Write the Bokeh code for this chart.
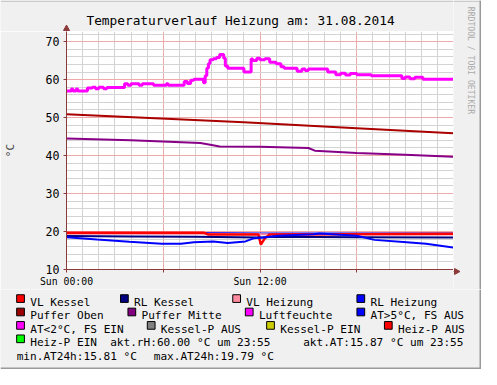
from bokeh.plotting import figure
from bokeh.layouts import column, row
from bokeh.models import Range1d, FixedTicker
from bokeh.embed import file_html
from bokeh.resources import INLINE
from bokeh.core.properties import value
import math

# ---------------- data (hours since Sun 00:00, °C) ----------------
luft_t = [0, 0.3, 0.4, 0.6, 0.7, 1.3, 1.6, 1.8, 2.0, 2.3, 2.5, 3.6, 3.8, 4.0, 4.5, 4.7, 5.2, 5.4, 6.2, 6.3, 7.3, 7.5, 7.7, 7.9, 8.4, 8.5,
          8.6, 8.7, 8.8, 8.9, 9.1, 9.3, 9.5, 9.75, 9.85, 10.0, 11.0, 11.45, 11.55, 11.8, 12.0, 12.3, 12.6, 13.0, 13.3, 13.5,
          14.3, 14.6, 14.8, 15.0, 15.3, 16.2, 16.7, 17.0, 17.3, 17.6, 18.0, 18.9, 20.8, 21.0, 21.3, 21.6, 22.1, 24]
luft_v = [57, 57.5, 57, 57.5, 57, 57.8, 58, 57.6, 58, 57.6, 57.9, 58.9, 58.5, 58.9, 58.5, 58.9, 58.9, 58.5, 58.9, 58.5, 59.5, 59.0, 59.8, 60.1, 60.1, 59.2,
          61.0, 63.0, 64.2, 65.2, 65.5, 65.8, 66.6, 65.6, 63.6, 63.0, 62.0, 65.4, 65.0, 65.6, 65.2, 65.5, 64.6, 64.2, 63.4, 63.0,
          62.2, 62.8, 62.4, 62.8, 62.8, 62.0, 61.3, 61.7, 61.2, 61.6, 61.3, 61.0, 60.3, 60.7, 60.2, 60.6, 60.1, 60.1]

puffer_oben_t = [0, 11, 18, 24]
puffer_oben_v = [50.9, 48.8, 47.2, 45.9]

puffer_mitte_t = [0, 4, 8.3, 9.0, 9.5, 12, 15.0, 15.4, 18, 21, 24]
puffer_mitte_v = [44.5, 44.0, 43.3, 42.8, 42.4, 42.3, 42.0, 41.3, 40.7, 40.2, 39.7]

rl_heiz_t = [0, 8.5, 12, 24]
rl_heiz_v = [19.6, 19.6, 19.5, 19.5]

vl_heiz_t = [0, 8.5, 12.5, 24]
vl_heiz_v = [19.4, 19.4, 19.3, 19.2]

vl_kessel_t = [0, 8.5, 8.8, 11.9, 12.05, 12.3, 12.6, 24]
vl_kessel_v = [19.7, 19.7, 19.2, 19.2, 16.6, 18.2, 19.2, 19.4]

rl_kessel_t = [0, 4, 8, 12, 13, 18, 24]
rl_kessel_v = [18.8, 18.7, 18.6, 18.4, 18.6, 18.5, 18.4]

at_t = [0, 1.9, 3.9, 5.9, 7.1, 7.9, 9.1, 10.0, 11.1, 11.6, 12.2, 13.1, 15.3, 15.7, 18.0, 19.1, 21.1, 22.3, 24]
at_v = [18.5, 17.9, 17.3, 16.8, 16.8, 17.2, 17.4, 17.0, 17.4, 18.2, 18.4, 18.9, 19.3, 19.5, 18.9, 17.8, 17.2, 16.8, 15.8]

x_tick_pos = [0, 6, 12, 18, 24]
x_tick_lbl = ["Sun 00:00", "", "Sun 12:00", "", ""]
y_tick_pos = [10, 20, 30, 40, 50, 60, 70]

title_text = "Temperaturverlauf Heizung am: 31.08.2014"
ylabel_text = "°C"
watermark = "RRDTOOL / TOBI OETIKER"

legend_rows = [
    [("VL Kessel", "#FF0000"), ("RL Kessel", "#000080"), ("VL Heizung", "#FF8C9E"), ("RL Heizung", "#0000FF")],
    [("Puffer Oben", "#990000"), ("Puffer Mitte", "#800080"), ("Luftfeuchte", "#FF00FF"), ("AT>5°C, FS AUS", "#0000FF")],
    [("AT<2°C, FS EIN", "#FF00FF"), ("Kessel-P AUS", "#808080"), ("Kessel-P EIN", "#CCCC00"), ("Heiz-P AUS", "#FF0000")],
    [("Heiz-P EIN", "#00FF00")],
]
info_row4 = ["akt.rH:60.00 °C um 23:55", "akt.AT:15.87 °C um 23:55"]
info_row5 = ["min.AT24h:15.81 °C", "max.AT24h:19.79 °C"]

# ---------------- layout (reference pixels scaled into 481x369) ----------------
W, H = 481, 369
S_X, S_Y = W / 497.0, H / 385.0


def SX(X):
    return X * S_X


def SY(Y):
    return Y * S_Y


legend_square_x = [[16.7, 124, 240, 368.3], [16.7, 131.7, 253, 368.3], [16.7, 151.7, 275, 396.7], [16.7]]
info_row4_x = [113.3, 312.7]
info_row5_x = [16.7, 158.3]
baselines_ref = [315, 329, 343, 357, 371]

MONO = "DejaVu Sans Mono"
BG = "#F0F0F0"
AXIS = "#8B3A3A"
FL, FR, FT, FB = 66, 453, 31, 271       # plot frame in figure pixels
TOP_H = 289                              # title strip + plot
YMIN = 10
PXD = (FB - SY(43)) / 60.0
YMAX = YMIN + (FB - FT) / PXD

# title strip
tfig = figure(width=FR, height=FT, output_backend="svg", toolbar_location=None,
              x_range=Range1d(0, FR), y_range=Range1d(FT, 0), min_border=0,
              x_axis_type=None, y_axis_type=None, frame_align=False)
tfig.background_fill_color = BG
tfig.border_fill_color = BG
tfig.outline_line_color = None
tfig.grid.visible = False
tfig.text(x=[SX(248)], y=[SY(20.5)], text=[title_text], text_font=value(MONO), text_font_size="12.8px",
          text_align="center", text_baseline="alphabetic", text_color="#000000")
tfig.segment(x0=[FL], y0=[FT], x1=[FL], y1=[FT - 4], line_color=AXIS, line_width=1)
tfig.patch(x=[FL - 3, FL + 3, FL], y=[FT - 1, FT - 1, FT - 6.5], fill_color=AXIS, line_color=AXIS)
tfig.segment(x0=[0], y0=[0.75], x1=[FR], y1=[0.75], line_color="#CBCBCB", line_width=1.5)

# main plot
p = figure(width=FR, height=TOP_H - FT, output_backend="svg", toolbar_location=None,
           x_range=Range1d(0, 24), y_range=Range1d(YMIN, YMAX),
           min_border_left=FL, min_border_right=0, min_border_top=0,
           min_border_bottom=TOP_H - FB, frame_align=False)
p.background_fill_color = "white"
p.border_fill_color = BG
p.outline_line_color = None

p.xaxis.ticker = FixedTicker(ticks=x_tick_pos)
p.xaxis.major_label_overrides = {t: l for t, l in zip(x_tick_pos, x_tick_lbl)}
p.yaxis.ticker = FixedTicker(ticks=y_tick_pos)
for ax in (p.xaxis, p.yaxis):
    ax.axis_line_color = AXIS
    ax.axis_line_width = 1
    ax.major_tick_line_color = AXIS
    ax.major_tick_out = 3
    ax.major_tick_in = 0
    ax.minor_tick_line_color = None
    ax.major_label_text_font = MONO
    ax.major_label_text_color = "#000000"
p.xaxis.major_label_text_font_size = "9.8px"
p.xaxis.major_label_standoff = 3
p.yaxis.major_label_text_font_size = "11.6px"
p.yaxis.major_label_standoff = 4
p.yaxis.axis_label = ylabel_text
p.yaxis.axis_label_text_font = MONO
p.yaxis.axis_label_text_font_size = "11px"
p.yaxis.axis_label_text_font_style = "normal"
p.yaxis.axis_label_standoff = 26

p.xgrid.ticker = FixedTicker(ticks=[0, 6, 12, 18, 24], minor_ticks=list(range(0, 25)))
p.ygrid.ticker = FixedTicker(ticks=y_tick_pos, minor_ticks=list(range(10, 74, 2)))
for g in (p.xgrid, p.ygrid):
    g.grid_line_color = "#F2A0A0"
    g.grid_line_alpha = 0.8
    g.minor_grid_line_color = "#D3D3D3"

p.line(rl_heiz_t, rl_heiz_v, line_color="#0000FF", line_width=2)
p.line(vl_heiz_t, vl_heiz_v, line_color="#FF8C9E", line_width=2)
p.line(vl_kessel_t, vl_kessel_v, line_color="#FF0000", line_width=2.5)
p.line(rl_kessel_t, rl_kessel_v, line_color="#000080", line_width=2)
p.line(puffer_oben_t, puffer_oben_v, line_color="#AA0000", line_width=2)
p.line(puffer_mitte_t, puffer_mitte_v, line_color="#880088", line_width=2)
p.step(luft_t, luft_v, mode="after", line_color="#FF00FF", line_width=3)
p.line(at_t, at_v, line_color="#0000FF", line_width=2)

# right strip: x-axis arrow head + watermark
WM_W = W - FR
wfig = figure(width=WM_W, height=TOP_H, output_backend="svg", toolbar_location=None,
              x_range=Range1d(0, WM_W), y_range=Range1d(TOP_H, 0), min_border=0,
              x_axis_type=None, y_axis_type=None, frame_align=False)
wfig.background_fill_color = BG
wfig.border_fill_color = BG
wfig.outline_line_color = None
wfig.grid.visible = False
wfig.segment(x0=[0], y0=[FB], x1=[3], y1=[FB], line_color=AXIS, line_width=1)
wfig.patch(x=[1, 1, 6.5], y=[FB - 3, FB + 3, FB], fill_color=AXIS, line_color=AXIS)
wfig.text(x=[SX(486.2) - FR], y=[SY(62.5)], text=[watermark], angle=-math.pi / 2,
          text_font=value(MONO), text_font_size="8.1px", text_align="center",
          text_baseline="middle", text_color="#ABABAB")
wfig.segment(x0=[0], y0=[0.75], x1=[WM_W], y1=[0.75], line_color="#CBCBCB", line_width=1.5)
wfig.segment(x0=[WM_W - 1], y0=[0], x1=[WM_W - 1], y1=[TOP_H], line_color="#999999", line_width=2)

# legend strip
LEG_H = H - TOP_H
q = figure(width=W, height=LEG_H, output_backend="svg", toolbar_location=None,
           x_range=Range1d(0, W), y_range=Range1d(LEG_H, 0), min_border=0,
           x_axis_type=None, y_axis_type=None, frame_align=False)
q.background_fill_color = BG
q.border_fill_color = BG
q.outline_line_color = None
q.grid.visible = False

bl = [SY(b) - TOP_H for b in baselines_ref]
sq_x, sq_y, sq_c, tx, ty, tt = [], [], [], [], [], []
for r, (items, xs) in enumerate(zip(legend_rows, legend_square_x)):
    for (name, col), x in zip(items, xs):
        sq_x.append(SX(x + 4))
        sq_y.append(bl[r] - SY(4))
        sq_c.append(col)
        tx.append(SX(x + 14))
        ty.append(bl[r])
        tt.append(name)
for s, x in zip(info_row4, info_row4_x):
    tx.append(SX(x)); ty.append(bl[3]); tt.append(s)
for s, x in zip(info_row5, info_row5_x):
    tx.append(SX(x)); ty.append(bl[4]); tt.append(s)

q.rect(x=sq_x, y=sq_y, width=SX(8), height=SY(8), fill_color=sq_c, line_color="#000000", line_width=1)
q.text(x=tx, y=ty, text=tt, text_font=value(MONO), text_font_size="11.1px",
       text_baseline="alphabetic", text_align="left", text_color="#000000")
q.segment(x0=[0], y0=[LEG_H - 1], x1=[W], y1=[LEG_H - 1], line_color="#999999", line_width=2)
q.segment(x0=[W - 1], y0=[0], x1=[W - 1], y1=[LEG_H], line_color="#999999", line_width=2)

layout = column(row(column(tfig, p, spacing=0), wfig, spacing=0), q, spacing=0)
open("out.html", "w").write(file_html(layout, INLINE))
